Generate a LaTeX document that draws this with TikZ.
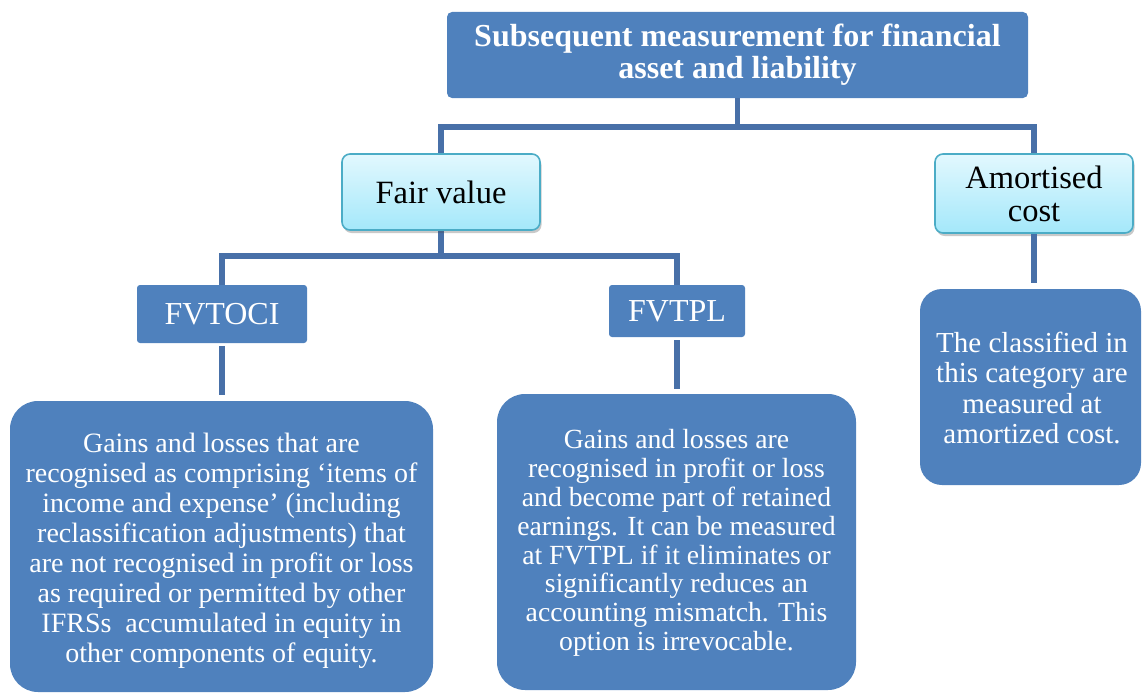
\documentclass[tikz,border=0pt]{standalone}
\usepackage{fontspec}
\setmainfont{Liberation Serif}
\usetikzlibrary{shadows}
\definecolor{boxblue}{RGB}{79,129,189}
\definecolor{linkblue}{RGB}{72,112,168}
\definecolor{cyanedge}{RGB}{75,172,198}
\definecolor{cyantop}{RGB}{226,248,254}
\definecolor{cyanbot}{RGB}{164,232,250}
\begin{document}
\begin{tikzpicture}[x=1pt,y=-1pt,
  bluebox/.style={fill=boxblue, text=white, inner sep=0pt, align=center},
  headbox/.style={bluebox, rounded corners=5pt, font=\fontsize{32}{32}\selectfont\bfseries},
  tagbox/.style={bluebox, rounded corners=3pt, font=\fontsize{32}{33}\selectfont},
  notebox/.style={bluebox, rounded corners=28pt},
  notetext/.style={text=white, inner sep=0pt, align=center},
  cyanbox/.style={draw=cyanedge, line width=1.6pt, top color=cyantop, bottom color=cyanbot,
    rounded corners=8pt, inner sep=0pt, align=center, text=black,
    font=\fontsize{32.5}{33}\selectfont,
    drop shadow={shadow xshift=1.5pt, shadow yshift=-3pt, opacity=0.3, fill=black!70}},
  link/.style={draw=linkblue, line width=5.5pt, line join=miter},
]
\useasboundingbox (0,0) rectangle (1142,693);

\coordinate (j1) at (737.5,127);
\coordinate (j2) at (441,256);

% heading
\node[headbox, minimum width=581pt, minimum height=86pt] (top) at (737.5,55)
  {Subsequent measurement for financial\\asset and liability};

% tree connectors, drawn before the boxes so these sit over them
\draw[link] (top.south) -- (j1);
\draw[link] (441,175) |- (j1) -| (1034,175);
\draw[link] (441,210) -- (j2);
\draw[link] (222,300) |- (j2) -| (677,300);

\node[cyanbox, minimum width=198pt, minimum height=76pt] (fv) at (441,192) {Fair value};
\node[cyanbox, minimum width=198pt, minimum height=79pt] (am) at (1034,193.5) {Amortised\\cost};

\node[tagbox, minimum width=170pt, minimum height=58pt] (oci) at (222,314) {FVTOCI};
\node[tagbox, minimum width=136pt, minimum height=52pt] (tpl) at (677,311) {FVTPL};

% description panels
\node[notebox, minimum width=423pt, minimum height=291pt] (ocinote) at (221.5,546.5) {};
\node[notetext, font=\fontsize{28}{30}\selectfont] (ocitext) at (221.5,551)
  {Gains and losses that are\\
   recognised as comprising ‘items of\\
   income and expense’ (including\\
   reclassification adjustments) that\\
   are not recognised in profit or loss\\
   as required or permitted by other\\
   IFRSs\ \ accumulated in equity in\\
   other components of equity.};

\node[notebox, minimum width=359pt, minimum height=296pt] (tplnote) at (676.5,542) {};
\node[notetext, font=\fontsize{27.7}{28.8}\selectfont] (tpltext) at (676.5,543)
  {Gains and losses are\\
   recognised in profit or loss\\
   and become part of retained\\
   earnings. It can be measured\\
   at FVTPL if it eliminates or\\
   significantly reduces an\\
   accounting mismatch. This\\
   option is irrevocable.};

\node[notebox, rounded corners=22pt, minimum width=221pt, minimum height=196pt] (amnote) at (1030.5,387) {};
\node[notetext, font=\fontsize{29}{30.5}\selectfont] (amtext) at (1032,388)
  {The classified in\\
   this category are\\
   measured at\\
   amortized cost.};

% short drops into the panels
\draw[link, shorten <=3pt, shorten >=6pt] (oci.south) -- (ocinote.north -| oci.south);
\draw[link, shorten <=3pt, shorten >=5pt] (tpl.south) -- (tplnote.north -| tpl.south);
\draw[link, shorten >=6pt] (am.south) -- (amnote.north -| am.south);
\end{tikzpicture}
\end{document}
